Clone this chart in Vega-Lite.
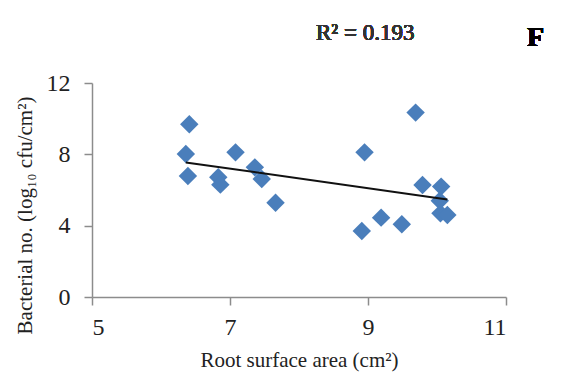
{
  "$schema": "https://vega.github.io/schema/vega-lite/v6.json",
  "width": 414,
  "height": 214,
  "autosize": {"type": "none"},
  "padding": {"left": 92, "top": 83, "right": 56, "bottom": 83},
  "background": "white",
  "config": {
    "view": {"stroke": null},
    "font": "Liberation Serif"
  },
  "data": {
    "values": [
      {"area": 6.41, "bacteria": 9.69},
      {"area": 6.36, "bacteria": 8.02},
      {"area": 6.39, "bacteria": 6.79},
      {"area": 7.08, "bacteria": 8.11},
      {"area": 6.83, "bacteria": 6.71},
      {"area": 6.86, "bacteria": 6.30},
      {"area": 7.36, "bacteria": 7.27},
      {"area": 7.46, "bacteria": 6.62},
      {"area": 7.66, "bacteria": 5.29},
      {"area": 8.95, "bacteria": 8.11},
      {"area": 8.91, "bacteria": 3.70},
      {"area": 9.19, "bacteria": 4.45},
      {"area": 9.49, "bacteria": 4.08},
      {"area": 9.69, "bacteria": 10.34},
      {"area": 9.79, "bacteria": 6.28},
      {"area": 10.06, "bacteria": 6.19},
      {"area": 10.04, "bacteria": 5.40},
      {"area": 10.05, "bacteria": 4.69},
      {"area": 10.15, "bacteria": 4.60}
    ]
  },
  "encoding": {
    "x": {
      "field": "area",
      "type": "quantitative",
      "scale": {"domain": [5, 11], "nice": false, "zero": false},
      "axis": {
        "values": [5, 7, 9, 11],
        "grid": false,
        "title": "Root surface area (cm²)",
        "titleFont": "Liberation Serif",
        "titleFontSize": 21,
        "titleFontWeight": "normal",
        "titleColor": "#222222",
        "titleY": 63,
        "titleBaseline": "middle",
        "labelFont": "Liberation Serif",
        "labelFontSize": 24,
        "labelColor": "#222222",
        "labelPadding": 10,
        "domainColor": "#8c8c8c",
        "domainWidth": 1.5,
        "tickColor": "#8c8c8c",
        "tickWidth": 1.5,
        "tickSize": 8
      }
    },
    "y": {
      "field": "bacteria",
      "type": "quantitative",
      "scale": {"domain": [0, 12], "nice": false},
      "axis": {
        "values": [0, 4, 8, 12],
        "grid": false,
        "title": "Bacterial no. (log₁₀ cfu/cm²)",
        "titleFont": "Liberation Serif",
        "titleFontSize": 21,
        "titleFontWeight": "normal",
        "titleColor": "#222222",
        "titleX": -67,
        "titleY": 132,
        "titleAlign": "center",
        "titleBaseline": "middle",
        "labelFont": "Liberation Serif",
        "labelFontSize": 24,
        "labelColor": "#222222",
        "labelPadding": 14,
        "domainColor": "#8c8c8c",
        "domainWidth": 1.5,
        "tickColor": "#8c8c8c",
        "tickWidth": 1.5,
        "tickSize": 8
      }
    }
  },
  "layer": [
    {
      "mark": {"type": "point", "shape": "diamond", "filled": true, "size": 340, "color": "#4A7EBB", "opacity": 1}
    },
    {
      "transform": [{"regression": "bacteria", "on": "area"}],
      "mark": {"type": "line", "color": "#111111", "strokeWidth": 2}
    },
    {
      "mark": {"type": "text", "text": "R² = 0.193", "font": "Liberation Serif", "fontSize": 23, "fontWeight": "normal", "color": "#333333", "align": "center", "baseline": "middle", "clip": false},
      "encoding": {"x": {"datum": 8.96}, "y": {"datum": 14.8}}
    },
    {
      "mark": {"type": "text", "text": "F", "font": "Liberation Serif", "fontSize": 28, "fontWeight": "bold", "color": "#000000", "align": "center", "baseline": "middle", "clip": false},
      "encoding": {"x": {"datum": 11.43}, "y": {"datum": 14.55}}
    }
  ]
}
